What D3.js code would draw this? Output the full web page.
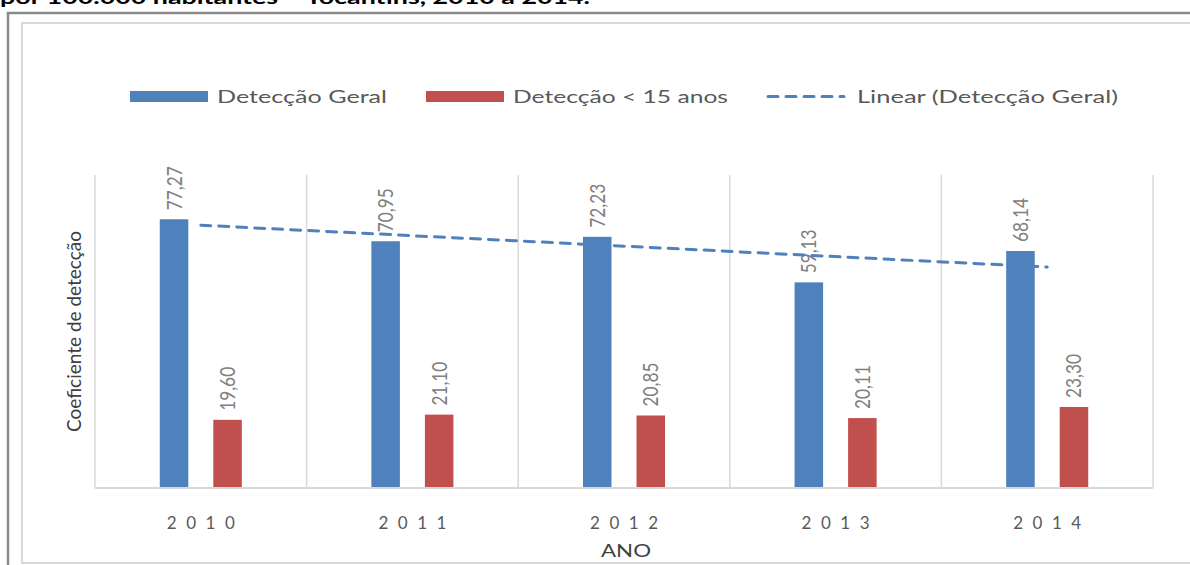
<!DOCTYPE html>
<html>
<head>
<meta charset="utf-8">
<script src="https://cdn.jsdelivr.net/npm/d3@7"></script>
<style>
  body { margin: 0; background: #fff; }
  svg { display: block; }
  text { font-family: Lato, "Open Sans", "Liberation Sans", sans-serif; }
</style>
</head>
<body>
<div id="chart"></div>
<script>
// data
const years = ['2010', '2011', '2012', '2013', '2014'];
const seriesNames = ['Detecção Geral', 'Detecção < 15 anos'];
const geral = [77.27, 70.95, 72.23, 59.13, 68.14];
const menor15 = [19.60, 21.10, 20.85, 20.11, 23.30];
const trendName = 'Linear (Detecção Geral)';
const yDomain = [0, 90];

const W = 1190;
const H = 565;
const colors = ['#4f81bd', '#c0504d'];
const fmt = (v) => v.toFixed(2).replace('.', ',');

const svg = d3.select('#chart')
  .append('svg')
  .attr('width', W)
  .attr('height', H);

// clipped caption line above the chart frame
svg.append('text')
  .attr('x', 0)
  .attr('y', 4)
  .attr('font-family', '"DejaVu Sans", sans-serif')
  .attr('font-weight', 'bold')
  .attr('font-size', 19)
  .attr('textLength', 590)
  .attr('lengthAdjust', 'spacingAndGlyphs')
  .attr('fill', '#000')
  .text('por 100.000 habitantes – Tocantins, 2010 a 2014.');

// frames
svg.append('path')
  .attr('d', `M8,${H} V13 H${W}`)
  .attr('fill', 'none')
  .attr('stroke', '#8a8a8a')
  .attr('stroke-width', 2.5);
svg.append('rect')
  .attr('x', 22)
  .attr('y', 23)
  .attr('width', W)
  .attr('height', 540)
  .attr('fill', '#fff')
  .attr('stroke', '#d9d9d9')
  .attr('stroke-width', 2);

// plot area
const plotLeft = 95;
const plotRight = 1153;
const plotTop = 175;
const plotBottom = 488;

const x0 = d3.scaleBand().domain(years).range([plotLeft, plotRight]).padding(0);
const x1 = d3.scaleBand()
  .domain(seriesNames)
  .range([0, x0.bandwidth()])
  .paddingInner(0.467)
  .paddingOuter(1.21);
const y = d3.scaleLinear().domain(yDomain).range([plotBottom, plotTop]);

// vertical gridlines at category boundaries
const edges = years.map((d) => x0(d)).concat([plotRight]);
svg.append('g')
  .selectAll('line')
  .data(edges)
  .join('line')
  .attr('x1', (d) => d)
  .attr('x2', (d) => d)
  .attr('y1', plotTop)
  .attr('y2', plotBottom)
  .attr('stroke', '#d9d9d9')
  .attr('stroke-width', 1.5);

// bars
const rows = years.map((yr, i) => ({ year: yr, values: [geral[i], menor15[i]] }));
const groups = svg.append('g')
  .selectAll('g')
  .data(rows)
  .join('g')
  .attr('transform', (d) => `translate(${x0(d.year)},0)`);

groups.selectAll('rect')
  .data((d) => d.values.map((v, k) => ({ name: seriesNames[k], v, k })))
  .join('rect')
  .attr('x', (d) => x1(d.name))
  .attr('width', x1.bandwidth())
  .attr('y', (d) => y(d.v))
  .attr('height', (d) => y(0) - y(d.v))
  .attr('fill', (d) => colors[d.k]);

// bottom axis line
svg.append('line')
  .attr('x1', plotLeft)
  .attr('x2', plotRight)
  .attr('y1', plotBottom)
  .attr('y2', plotBottom)
  .attr('stroke', '#d9d9d9')
  .attr('stroke-width', 2);

// linear trendline (least squares over the category index)
const n = geral.length;
const xs = d3.range(1, n + 1);
const mx = d3.mean(xs);
const my = d3.mean(geral);
const slope = d3.sum(xs, (xv, i) => (xv - mx) * (geral[i] - my))
  / d3.sum(xs, (xv) => (xv - mx) ** 2);
const icpt = my - slope * mx;
const trend = years.map((yr, i) => [yr, icpt + slope * (i + 1)]);

svg.append('path')
  .datum(trend)
  .attr('fill', 'none')
  .attr('stroke', '#4f81bd')
  .attr('stroke-width', 3)
  .attr('stroke-linecap', 'round')
  .attr('stroke-dasharray', '10,8')
  .attr('d', d3.line()
    .x((d) => x0(d[0]) + x0.bandwidth() / 2)
    .y((d) => y(d[1])));

// data labels (rotated)
groups.selectAll('text.lbl')
  .data((d) => d.values.map((v, k) => ({ name: seriesNames[k], v, k })))
  .join('text')
  .attr('class', 'lbl')
  .attr('transform', (d) => `translate(${x1(d.name) + x1.bandwidth() / 2},${y(d.v) - 9}) scale(1.3,1) rotate(-90)`)
  .attr('dy', '0.36em')
  .attr('font-size', 16)
  .attr('textLength', 44)
  .attr('lengthAdjust', 'spacingAndGlyphs')
  .attr('fill', '#808080')
  .text((d) => fmt(d.v));

// category labels
const xAxis = d3.axisBottom(x0).tickSize(0).tickPadding(0);
const gx = svg.append('g')
  .attr('transform', `translate(0,${plotBottom})`)
  .call(xAxis);
gx.select('.domain').remove();
gx.selectAll('text')
  .attr('y', 41)
  .attr('dy', 0)
  .attr('font-family', 'Lato, "Open Sans", sans-serif')
  .attr('font-size', 17)
  .attr('textLength', 68)
  .attr('lengthAdjust', 'spacing')
  .attr('fill', '#595959');

// axis titles
svg.append('text')
  .attr('x', 626)
  .attr('y', 557)
  .attr('text-anchor', 'middle')
  .attr('font-size', 17)
  .attr('textLength', 50)
  .attr('lengthAdjust', 'spacingAndGlyphs')
  .attr('fill', '#404040')
  .text('ANO');

svg.append('text')
  .attr('transform', `translate(81,${(plotTop + plotBottom) / 2}) scale(1.3,1) rotate(-90)`)
  .attr('text-anchor', 'middle')
  .attr('font-size', 15)
  .attr('textLength', 201)
  .attr('lengthAdjust', 'spacingAndGlyphs')
  .attr('fill', '#404040')
  .text('Coeficiente de detecção');

// legend
const legendItems = [
  { label: seriesNames[0], kind: 'rect', color: colors[0], x: 130, tw: 170 },
  { label: seriesNames[1], kind: 'rect', color: colors[1], x: 426, tw: 215 },
  { label: trendName, kind: 'dash', color: colors[0], x: 766, tw: 261 },
];
const legend = svg.append('g').attr('id', 'legend');
legendItems.forEach((it) => {
  const g = legend.append('g').attr('transform', `translate(${it.x},0)`);
  if (it.kind === 'rect') {
    g.append('rect')
      .attr('x', 0)
      .attr('y', 91)
      .attr('width', 78)
      .attr('height', 11)
      .attr('fill', it.color);
  } else {
    g.append('line')
      .attr('x1', 2)
      .attr('x2', 78)
      .attr('y1', 96.5)
      .attr('y2', 96.5)
      .attr('stroke', it.color)
      .attr('stroke-width', 3)
      .attr('stroke-linecap', 'round')
      .attr('stroke-dasharray', '10,8');
  }
  g.append('text')
    .attr('x', it.kind === 'rect' ? 87 : 91)
    .attr('y', 103)
    .attr('font-size', 17.5)
    .attr('textLength', it.tw)
    .attr('lengthAdjust', 'spacingAndGlyphs')
    .attr('fill', '#595959')
    .text(it.label);
});
</script>
</body>
</html>
